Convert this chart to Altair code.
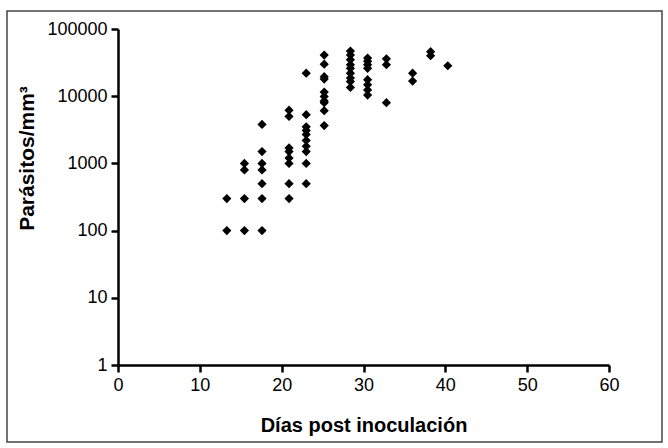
import altair as alt
import pandas as pd

# Days post inoculation (as positioned in the picture) and parasite counts
days_13 = [300, 100]
days_15 = [1000, 800, 300, 100]
days_17 = [3800, 1500, 1000, 800, 500, 300, 100]
days_21 = [6200, 5000, 1700, 1500, 1200, 1000, 500, 300]
days_23 = [22000, 5300, 3500, 3100, 2700, 2200, 1800, 1500, 1000, 500]
days_25 = [41000, 30000, 19500, 18000, 11500, 9900, 8500, 8000, 6100, 3650]
days_28 = [47000, 41000, 35000, 29500, 26000, 22000, 18600, 16500, 13500]
days_30 = [37000, 33000, 29400, 26000, 17600, 14800, 12400, 10400]
days_33 = [36000, 29500, 8000]
days_36 = [22000, 16800]
days_38 = [46000, 40000]
days_40 = [28400]

columns = [
    (13.3, days_13), (15.45, days_15), (17.6, days_17), (20.9, days_21),
    (23.0, days_23), (25.2, days_25), (28.4, days_28), (30.5, days_30),
    (32.8, days_33), (36.0, days_36), (38.2, days_38), (40.3, days_40),
]

x_ticks = [0, 10, 20, 30, 40, 50, 60]
y_ticks = [1, 10, 100, 1000, 10000, 100000]

rows = []
for d, vals in columns:
    for v in vals:
        rows.append({"dia": d, "parasitos": v})
df = pd.DataFrame(rows)

FONT = "Liberation Sans"
W, H = 491, 336

points = alt.Chart(df).mark_point(
    shape="diamond", filled=True, color="black", size=85, opacity=1
).encode(
    x=alt.X("dia:Q",
            scale=alt.Scale(domain=[0, 60], nice=False, zero=False),
            axis=alt.Axis(values=x_ticks, title="Días post inoculación",
                          labelPadding=4, titlePadding=21, zindex=2)),
    y=alt.Y("parasitos:Q",
            scale=alt.Scale(type="log", domain=[1, 100000], nice=False),
            axis=alt.Axis(values=y_ticks, format="d", title="Parásitos/mm³",
                          labelPadding=4, zindex=2,
                          titleAngle=270, titleBaseline="middle",
                          titleAlign="center", titleFontSize=21,
                          titleX=-91, titleY=129)),
)

frame = alt.Chart(pd.DataFrame({"a": [0]})).mark_rect(
    fill="transparent", fillOpacity=0, stroke="#444444", strokeWidth=1.5
).encode(
    x=alt.value(-111), x2=alt.value(544),
    y=alt.value(-18), y2=alt.value(413),
)

chart = alt.layer(frame, points).properties(
    width=W, height=H,
    background="white",
    autosize=alt.AutoSizeParams(type="none"),
    padding={"left": 118, "top": 29, "right": 59, "bottom": 83},
).configure_view(
    strokeWidth=0
).configure_axis(
    grid=False, tickSize=7,
    domainColor="black", domainWidth=2.5, tickColor="black", tickWidth=2.5,
    labelFont=FONT, labelFontSize=18, labelColor="black", labelFlush=False,
    titleFont=FONT, titleFontSize=20, titleFontWeight="bold", titleColor="black",
)

chart.save("out.html", embed_options={"renderer": "svg", "actions": False})
